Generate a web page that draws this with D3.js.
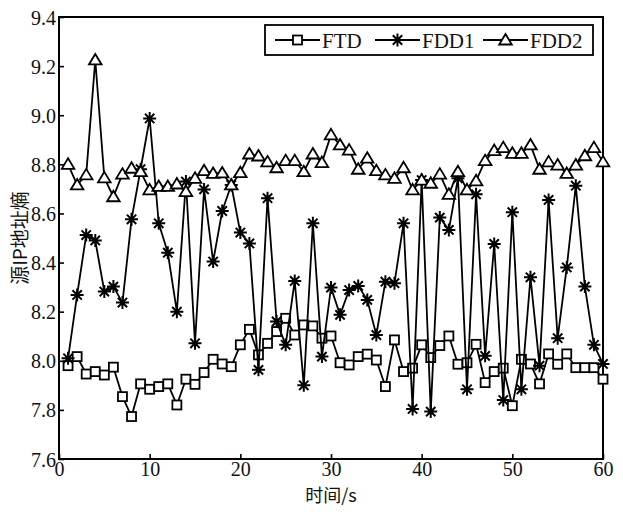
<!DOCTYPE html>
<html><head><meta charset="utf-8">
<script src="https://cdn.jsdelivr.net/npm/d3@7"></script>
<style>body{margin:0;background:#fff}svg{display:block}</style>
</head><body>
<script>
const xValues = d3.range(1, 61);
const FTD = [7.98,8.017,7.946,7.956,7.942,7.974,7.854,7.773,7.906,7.884,7.895,7.906,7.82,7.925,7.904,7.952,8.006,7.987,7.976,8.065,
8.128,8.024,8.071,8.119,8.173,8.105,8.146,8.142,8.092,8.101,7.992,7.983,8.017,8.027,8.003,7.895,8.085,7.956,7.97,8.065,
8.013,8.062,8.101,7.986,7.992,8.067,7.911,7.956,7.97,7.817,8.006,7.987,7.906,8.028,7.986,8.028,7.972,7.972,7.972,7.925];
const FDD1 = [8.01,8.268,8.512,8.49,8.282,8.302,8.237,8.576,8.78,8.987,8.56,8.44,8.20,8.73,8.071,8.698,8.404,8.61,8.716,8.522,
8.478,7.963,8.662,8.16,8.065,8.325,7.90,8.56,8.017,8.298,8.187,8.288,8.305,8.248,8.105,8.322,8.316,8.56,7.804,8.736,
7.793,8.583,8.533,8.743,7.884,8.678,8.02,8.476,7.84,8.605,7.884,8.34,7.98,8.655,8.092,8.38,8.713,8.302,8.065,7.987];
const FDD2 = [8.80,8.716,8.757,9.225,8.745,8.668,8.76,8.784,8.77,8.696,8.71,8.71,8.72,8.689,8.743,8.774,8.763,8.765,8.716,8.766,
8.842,8.834,8.81,8.786,8.815,8.815,8.77,8.842,8.807,8.92,8.879,8.858,8.78,8.825,8.774,8.757,8.743,8.786,8.696,8.736,
8.723,8.76,8.678,8.77,8.696,8.733,8.815,8.856,8.868,8.845,8.845,8.879,8.78,8.81,8.797,8.763,8.797,8.835,8.868,8.81];
const seriesNames = ["FTD","FDD1","FDD2"];
const markerTypes = ["square","star","triangle"];
const xTicks = [0,10,20,30,40,50,60];
const yTicks = [7.6,7.8,8.0,8.2,8.4,8.6,8.8,9.0,9.2,9.4];
const xTitle = "时间/s";
const yTitle = "源IP地址熵";

const W = 623, H = 512;
const m = {left:59, right:20, top:17, bottom:53};
const svg = d3.select("body").append("svg").attr("width",W).attr("height",H);
const x = d3.scaleLinear().domain([0,60]).range([m.left, W-m.right]);
const y = d3.scaleLinear().domain([7.6,9.4]).range([H-m.bottom, m.top]);
const serif = "'Liberation Serif','Times New Roman',serif";

// axes
const xa = svg.append("g").attr("transform",`translate(0,${H-m.bottom})`)
  .call(d3.axisBottom(x).tickValues(xTicks).tickFormat(d3.format("d")).tickSizeInner(-5).tickSizeOuter(0).tickPadding(3));
const ya = svg.append("g").attr("transform",`translate(${m.left},0)`)
  .call(d3.axisLeft(y).tickValues(yTicks).tickFormat(d3.format(".1f")).tickSizeInner(-5).tickSizeOuter(0).tickPadding(3));
[xa,ya].forEach(g=>{
  g.select(".domain").remove();
  g.selectAll(".tick line").attr("stroke","#000").attr("stroke-width",1.6);
  g.selectAll("text").attr("font-family",serif).attr("font-size",20).attr("fill","#111");
});
xa.selectAll("text").attr("dy","0.72em");
ya.selectAll("text").attr("dy","0.35em");

// frame
svg.append("rect").attr("x",x(0)).attr("y",y(9.4)).attr("width",x(60)-x(0)).attr("height",y(7.6)-y(9.4))
  .attr("fill","none").attr("stroke","#000").attr("stroke-width",2);

function drawMarker(g, type, cx, cy) {
  if (type==="square") {
    g.append("rect").attr("x",cx-4.5).attr("y",cy-4.5).attr("width",9).attr("height",9)
      .attr("fill","#fff").attr("stroke","#000").attr("stroke-width",1.8);
  } else if (type==="triangle") {
    const s=6;
    g.append("path").attr("d",`M${cx},${cy-s}L${cx+s*1.05},${cy+s*0.75}L${cx-s*1.05},${cy+s*0.75}Z`)
      .attr("fill","#fff").attr("stroke","#000").attr("stroke-width",1.8);
  } else {
    const r=6.5, d=r*0.72;
    g.append("path").attr("d",`M${cx-r},${cy}H${cx+r}M${cx},${cy-r}V${cy+r}M${cx-d},${cy-d}L${cx+d},${cy+d}M${cx-d},${cy+d}L${cx+d},${cy-d}`)
      .attr("stroke","#000").attr("stroke-width",2).attr("fill","none");
  }
}

const allData = [FTD, FDD1, FDD2];
const line = d3.line().x((d,i)=>x(xValues[i])).y(d=>y(d));
allData.forEach((vals,k)=>{
  const g = svg.append("g");
  g.append("path").attr("d",line(vals)).attr("fill","none").attr("stroke","#000").attr("stroke-width",1.8).attr("stroke-linejoin","round");
  vals.forEach((v,i)=>drawMarker(g, markerTypes[k], x(xValues[i]), y(v)));
});

// legend
const lg = svg.append("g");
lg.append("rect").attr("x",265).attr("y",25).attr("width",328).attr("height",30)
  .attr("fill","#fff").attr("stroke","#000").attr("stroke-width",1.8);
const legX = [275, 375, 483];
seriesNames.forEach((n,k)=>{
  const lx = legX[k], ly = 40;
  lg.append("line").attr("x1",lx).attr("x2",lx+45).attr("y1",ly).attr("y2",ly).attr("stroke","#000").attr("stroke-width",1.8);
  drawMarker(lg, markerTypes[k], lx+22.5, ly);
  lg.append("text").attr("x",lx+47).attr("y",ly+7.5).attr("font-family",serif).attr("font-size",21).attr("fill","#111").text(n);
});

// titles
svg.append("text").attr("x",(x(0)+x(60))/2).attr("y",502).attr("text-anchor","middle")
  .attr("font-family","'Noto Sans CJK SC',serif").attr("font-size",18).attr("fill","#111").text(xTitle);
svg.append("text").attr("transform",`translate(27,${(y(7.6)+y(9.4))/2}) rotate(-90)`).attr("text-anchor","middle")
  .attr("font-family","'Noto Sans CJK SC',serif").attr("font-size",19).attr("fill","#111").text(yTitle);
</script>
</body></html>
